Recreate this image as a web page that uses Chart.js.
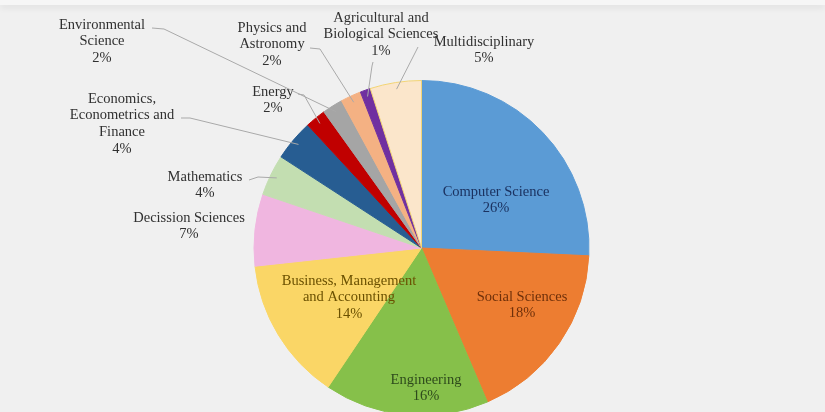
<!DOCTYPE html>
<html>
<head>
<meta charset="utf-8">
<title>Publications by subject area</title>
<script src="https://cdn.jsdelivr.net/npm/chart.js@4.4.1/dist/chart.umd.min.js"></script>
<style>
  html, body { margin: 0; padding: 0; overflow: hidden; background: #f0f0f0; }
  #topbar { position: absolute; left: 0; top: 0; width: 825px; height: 5px; background: #f6f6f6; box-shadow: 0 3px 6px rgba(0,0,0,0.07); }
  #subjectPie { display: block; position: absolute; left: 0; top: 0; }
</style>
</head>
<body>
<canvas id="subjectPie" width="825" height="416"></canvas>
<div id="topbar"></div>
<script>
// subject areas, clockwise from 12 o'clock
const categories = [
    'Computer Science',
    'Social Sciences',
    'Engineering',
    'Business, Management and Accounting',
    'Decission Sciences',
    'Mathematics',
    'Economics, Econometrics and Finance',
    'Energy',
    'Environmental Science',
    'Physics and Astronomy',
    'Agricultural and Biological Sciences',
    'Multidisciplinary'
];

// share of documents, in percent
const shares = [26, 18, 16, 14, 7, 4, 4, 2, 2, 2, 1, 5];

// how each label is broken into lines
const labelLines = [
    ['Computer Science'],
    ['Social Sciences'],
    ['Engineering'],
    ['Business, Management', 'and Accounting'],
    ['Decission Sciences'],
    ['Mathematics'],
    ['Economics,', 'Econometrics and', 'Finance'],
    ['Energy'],
    ['Environmental', 'Science'],
    ['Physics and', 'Astronomy'],
    ['Agricultural and', 'Biological Sciences'],
    ['Multidisciplinary']
];

const sliceColors = [
    '#5b9bd5', '#ed7d31', '#86c04a', '#fad666',
    '#f0b6e0', '#c3deb1', '#275d92', '#c00000',
    '#a5a5a5', '#f4b183', '#7030a0', '#fbe6cb'
];
const sliceBorders = [
    '#5b9bd5', '#ed7d31', '#86c04a', '#fad666',
    '#f0b6e0', '#c3deb1', '#275d92', '#c00000',
    '#a5a5a5', '#f4b183', '#7030a0', '#f2d475'
];

// text colour of each label
const labelInk = [
    '#1b3260', '#6f300a', '#2e4a1c', '#6a5000',
    '#303030', '#303030', '#303030', '#303030',
    '#303030', '#303030', '#303030', '#303030'
];

// where each label block sits (centre x, first line y) and, for the
// labels outside the pie, where its leader line leaves the text
const labelSpots = [
    { x: 496, y: 192 },
    { x: 522, y: 297 },
    { x: 426, y: 380 },
    { x: 349, y: 281 },
    { x: 189, y: 218 },
    { x: 205, y: 177, from: [249, 180], bend: [258, 177] },
    { x: 122, y: 99,  from: [181, 118], bend: [190, 118] },
    { x: 273, y: 92,  from: [298, 94],  bend: [304, 95] },
    { x: 102, y: 25,  from: [152, 28],  bend: [164, 29] },
    { x: 272, y: 28,  from: [310, 48],  bend: [320, 49] },
    { x: 381, y: 18,  from: [373, 62],  bend: [372, 66] },
    { x: 484, y: 42,  from: [418, 47],  bend: [416, 51] }
];

const LINE_HEIGHT = 16.6;
const LABEL_FONT = '14.5px "Liberation Serif", "Times New Roman", serif';

// draws the category / percent labels and the leader lines
const sliceLabels = {
    id: 'sliceLabels',
    afterDatasetsDraw(chart) {
        const ctx = chart.ctx;
        const arcs = chart.getDatasetMeta(0).data;
        ctx.save();
        arcs.forEach((arc, i) => {
            const spot = labelSpots[i];
            if (spot.from) {
                const mid = (arc.startAngle + arc.endAngle) / 2;
                const r = arc.outerRadius * 0.96;
                const ex = arc.x + Math.cos(mid) * r;
                const ey = arc.y + Math.sin(mid) * r;
                ctx.strokeStyle = '#a9a9a9';
                ctx.lineWidth = 1;
                ctx.beginPath();
                ctx.moveTo(spot.from[0], spot.from[1]);
                ctx.lineTo(spot.bend[0], spot.bend[1]);
                ctx.lineTo(ex, ey);
                ctx.stroke();
            }
            const lines = labelLines[i].concat([shares[i] + '%']);
            ctx.font = LABEL_FONT;
            ctx.fillStyle = labelInk[i];
            ctx.textAlign = 'center';
            ctx.textBaseline = 'middle';
            lines.forEach((txt, k) => {
                ctx.fillText(txt, spot.x, spot.y + k * LINE_HEIGHT);
            });
        });
        ctx.restore();
    }
};

new Chart(document.getElementById('subjectPie').getContext('2d'), {
    type: 'pie',
    data: {
        labels: categories,
        datasets: [{
            data: shares,
            backgroundColor: sliceColors,
            borderColor: sliceBorders,
            borderWidth: 1
        }]
    },
    options: {
        responsive: false,
        animation: false,
        layout: {
            padding: { top: 80, bottom: 0, left: 253, right: 235 }
        },
        plugins: {
            legend: { display: false },
            tooltip: { enabled: false }
        }
    },
    plugins: [sliceLabels]
});
</script>
</body>
</html>
